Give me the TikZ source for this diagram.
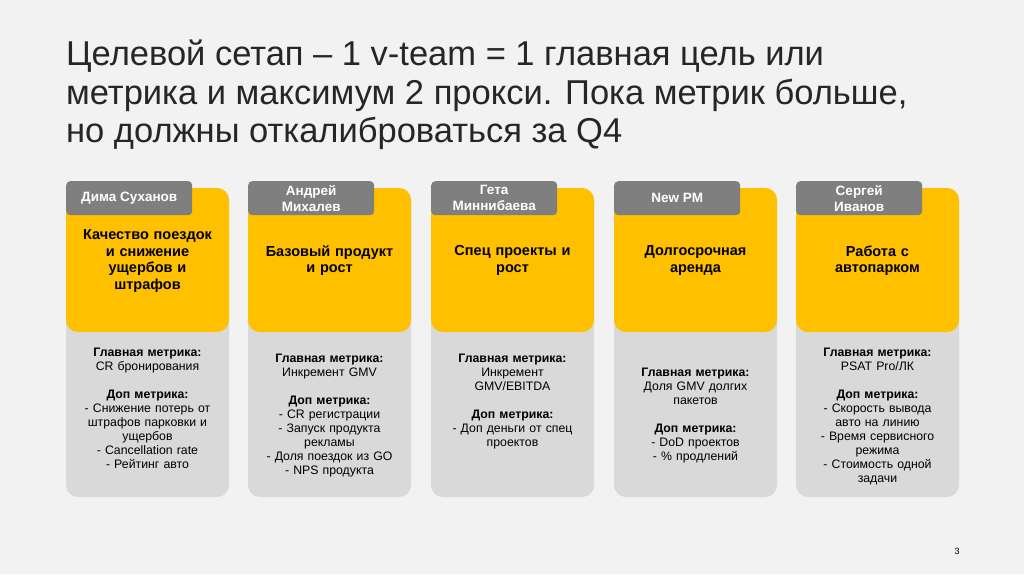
\documentclass[tikz,border=0pt]{standalone}
\usepackage{fontspec}
\setmainfont{Liberation Sans}
\definecolor{bg}{HTML}{F2F2F2}
\definecolor{ylw}{HTML}{FFC000}
\definecolor{crd}{HTML}{D9D9D9}
\definecolor{tabc}{HTML}{7F7F7F}
\definecolor{ttl}{HTML}{262626}
\begin{document}
\begin{tikzpicture}[x=1pt,y=-1pt,
  cardbg/.style={fill=crd,rounded corners=12pt},
  cardtop/.style={fill=ylw,rounded corners=12pt},
  tabbox/.style={fill=tabc,rounded corners=4pt,text=white,font=\bfseries\fontsize{13.5}{16}\selectfont,align=center,inner sep=0pt},
  headtxt/.style={font=\bfseries\fontsize{14.5}{16.5}\selectfont,align=center,text width=160pt,anchor=north},
  bodytxt/.style={font=\fontsize{12.3}{14}\selectfont,align=center,text width=165pt,anchor=north,text=black}]
\fill[bg] (0,0) rectangle (1024,574);
\useasboundingbox (0,0) rectangle (1024,574);
\node[anchor=north west,align=left,text=ttl,font=\fontsize{34.5}{38.5}\selectfont,inner sep=0pt] (title) at (66,40) {Целевой сетап -- 1 v-team = 1 главная цель или\\метрика и максимум 2 прокси. Пока метрик больше,\\но должны откалиброваться за Q4};
\foreach \i/\x/\tab/\head/\hy/\body/\by in {
 1/66/{Дима Суханов}/{Качество поездок\\и снижение\\ущербов и\\штрафов}/226/{\textbf{Главная метрика:}\\CR бронирования\\[14pt]\textbf{Доп метрика:}\\- Снижение потерь от\\штрафов парковки и\\ущербов\\- Cancellation rate\\- Рейтинг авто}/344,
 2/248/{Андрей\\Михалев}/{Базовый продукт\\и рост}/242/{\textbf{Главная метрика:}\\Инкремент GMV\\[14pt]\textbf{Доп метрика:}\\- CR регистрации\\- Запуск продукта\\рекламы\\- Доля поездок из GO\\- NPS продукта}/350,
 3/431/{Гета\\Миннибаева}/{Спец проекты и\\рост}/242/{\textbf{Главная метрика:}\\Инкремент\\GMV/EBITDA\\[14pt]\textbf{Доп метрика:}\\- Доп деньги от спец\\проектов}/350,
 4/614/{New PM}/{Долгосрочная\\аренда}/242/{\textbf{Главная метрика:}\\Доля GMV долгих\\пакетов\\[14pt]\textbf{Доп метрика:}\\- DoD проектов\\- \% продлений}/364,
 5/796/{Сергей\\Иванов}/{Работа с\\автопарком}/242/{\textbf{Главная метрика:}\\PSAT Pro/ЛК\\[14pt]\textbf{Доп метрика:}\\- Скорость вывода\\авто на линию\\- Время сервисного\\режима\\- Стоимость одной\\задачи}/344}{
  \path[cardbg] (\x,188) rectangle ++(163,309);
  \path[cardtop] (\x,188) rectangle ++(163,144);
  \node[tabbox,minimum width=126pt,minimum height=34pt,anchor=north west] (tab\i) at (\x,181) {\tab};
  \node[headtxt] (head\i) at (\x+81.5,\hy) {\head};
  \node[bodytxt] (body\i) at (\x+81.5,\by) {\body};
}
\node[font=\fontsize{9}{10}\selectfont] (pg) at (957,551) {3};
\end{tikzpicture}
\end{document}
